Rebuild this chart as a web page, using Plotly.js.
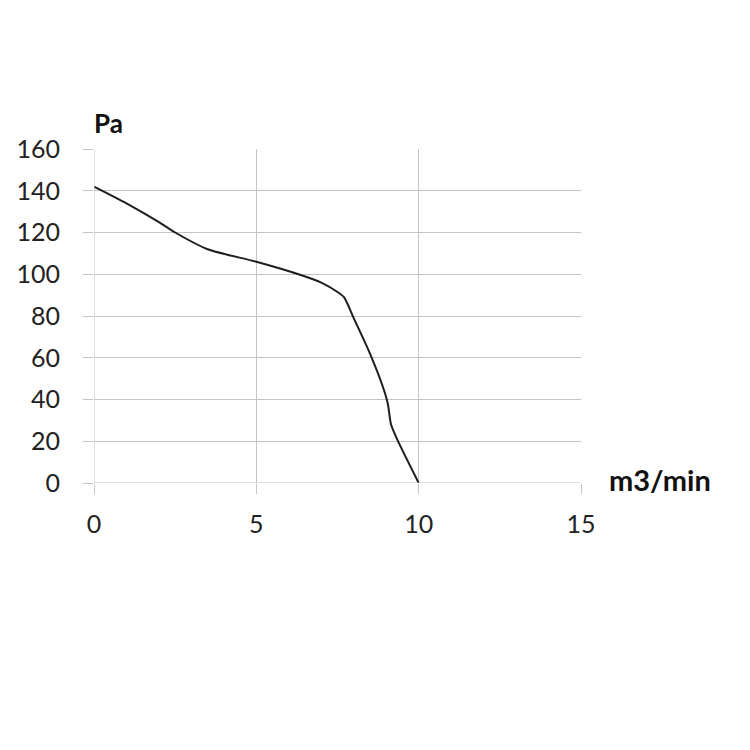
<!DOCTYPE html>
<html>
<head>
<meta charset="utf-8">
<script src="https://cdn.plot.ly/plotly-3.0.1.min.js"></script>
<style>html,body{margin:0;padding:0;background:#fff;}#chart{width:750px;height:750px;}</style>
</head>
<body>
<div id="chart"></div>
<script>
const flow = [0, 1, 2, 2.5, 3.5, 5, 6.3, 7, 7.5, 7.7, 8, 8.5, 8.9, 9.05, 9.15, 9.35, 10];
const pressure = [142, 134, 125, 120, 112, 106, 100, 96, 91.5, 89, 79, 62, 46, 38, 28, 20.5, 0];
const xTicks = [0, 5, 10, 15];
const yTicks = [0, 20, 40, 60, 80, 100, 120, 140, 160];
const xUnit = 'm3/min';
const yUnit = 'Pa';

const gridCol = '#c4c4c4';
const font = {family: 'Lato, "Open Sans", sans-serif', size: 25, color: '#222'};

Plotly.newPlot('chart', [{
  x: flow, y: pressure, type: 'scatter', mode: 'lines',
  line: {color: '#1e1e1e', width: 2, shape: 'spline', smoothing: 0.7},
  hoverinfo: 'none'
}], {
  width: 750, height: 750,
  margin: {l: 94, r: 169, t: 149, b: 267},
  paper_bgcolor: '#fff', plot_bgcolor: '#fff',
  showlegend: false,
  font: font,
  xaxis: {
    range: [0, 15], tickvals: xTicks, ticktext: xTicks.map(String),
    showgrid: true, gridcolor: gridCol, gridwidth: 1,
    zeroline: false, showline: false,
    ticks: 'outside', ticklen: 10, tickcolor: gridCol, tickwidth: 1,
    ticklabelstandoff: 9,
    tickfont: font, fixedrange: true
  },
  yaxis: {
    range: [0, 160], tickvals: yTicks, ticktext: yTicks.map(String),
    showgrid: true, gridcolor: gridCol, gridwidth: 1,
    zeroline: false, showline: false,
    ticks: 'outside', ticklen: 10, tickcolor: gridCol, tickwidth: 1,
    ticklabelstandoff: 18,
    tickfont: font, fixedrange: true
  },
  shapes: [
    {type: 'line', xref: 'x', yref: 'y', x0: 0, x1: 0, y0: 0, y1: 160, line: {color: gridCol, width: 1}},
    {type: 'line', xref: 'x', yref: 'y', x0: 0, x1: 15, y0: 0, y1: 0, line: {color: gridCol, width: 1}}
  ],
  annotations: [
    {text: '<b>' + yUnit + '</b>', xref: 'paper', yref: 'paper', x: 0, y: 1, xanchor: 'left', yanchor: 'bottom', yshift: 8, xshift: -2, showarrow: false, font: {family: font.family, size: 26, color: '#111'}},
    {text: '<b>' + xUnit + '</b>', xref: 'paper', yref: 'paper', x: 1, y: 0, xanchor: 'left', yanchor: 'middle', xshift: 26, yshift: 4, showarrow: false, font: {family: font.family, size: 29, color: '#111'}}
  ]
}, {staticPlot: true});
</script>
</body>
</html>
